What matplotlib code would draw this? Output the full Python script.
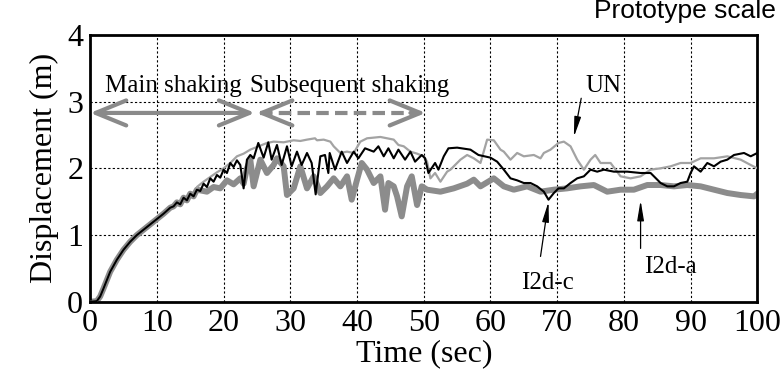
import numpy as np
import matplotlib
matplotlib.use("Agg")
import matplotlib.pyplot as plt

# common build-up (all three tests overlap here)
rise_t = [0, 1, 1.5, 2, 3, 4, 5, 6, 7, 8, 9, 10, 11, 12, 12.5, 13, 13.5, 14, 14.5, 15, 15.5, 16]
rise_y = [0, 0.01, 0.08, 0.2, 0.45, 0.63, 0.78, 0.9, 1.0, 1.08, 1.16, 1.24, 1.32, 1.41, 1.43,
          1.49, 1.46, 1.56, 1.52, 1.62, 1.58, 1.68]

# I2d-c (black)
c_t = [16.5, 17, 17.5, 18, 18.5, 19, 19.5, 20, 20.5, 21, 21.5, 22, 22.5, 23, 23.5, 24, 24.5,
       25.2, 26, 26.7, 27.2, 28, 28.7, 29.5, 30.2, 31, 31.7, 32.5, 33.2, 33.8, 34.5, 35.2, 35.7,
       35.9, 36.7, 37.7, 38.5, 39.5, 40.2, 41.2, 42.5, 43.2, 44, 44.7, 45.5, 46.2, 47.2, 48,
       48.7, 49.7, 50.2, 50.7, 51.7, 52.2, 53, 53.7, 55, 57, 58.2, 60, 61, 62, 63, 64, 65, 66,
       67, 68, 68.7, 69.5, 70.2, 71, 72, 73, 74, 75, 76, 77, 78.5, 80.5, 82.5, 84, 85.5, 86.5,
       87.5, 88.5, 89.5, 90, 90.5, 91.5, 92.5, 93.5, 94.5, 95.5, 96.5, 98, 99, 100]
c_y = [1.66, 1.77, 1.72, 1.85, 1.80, 1.90, 1.86, 1.98, 1.93, 2.08, 2.02, 2.12, 2.05, 1.70, 2.13,
       2.20, 2.15, 2.38, 2.16, 2.39, 2.13, 2.35, 2.05, 2.33, 2.03, 2.25, 2.05, 2.23, 2.08, 1.61,
       2.18, 2.20, 1.93, 2.23, 1.98, 2.25, 2.08, 2.25, 2.15, 2.30, 2.25, 2.33, 2.18, 2.30, 2.15,
       2.28, 2.13, 2.25, 2.10, 2.20, 2.15, 1.93, 2.08, 1.98, 2.18, 2.30, 2.31, 2.28, 2.20, 2.16,
       2.10, 1.98, 1.85, 1.82, 1.78, 1.78, 1.73, 1.65, 1.53, 1.63, 1.70, 1.70, 1.78, 1.85, 1.88,
       1.98, 1.95, 1.98, 1.95, 1.95, 1.93, 1.93, 1.78, 1.73, 1.73, 1.78, 1.80, 1.93, 2.03, 1.95,
       2.08, 2.03, 2.10, 2.13, 2.20, 2.23, 2.18, 2.23]

# UN (light grey)
un_t = [16, 17, 18, 19, 20, 21, 22, 23, 24, 25, 26.5, 27.5, 29, 30.5, 31.5, 32.5, 33.7, 34, 35,
        36, 36.5, 37.5, 38.5, 39.5, 40.5, 41.5, 43.5, 45.5, 46.2, 47, 48, 49, 50, 50.5, 51,
        51.7, 52.5, 53.5, 54, 55.5, 56.5, 57.5, 58.5, 59.5, 60.5, 61.5, 62, 63, 64, 65, 66.5,
        67.5, 68, 69, 70.2, 71, 72, 73, 74, 75, 75.7, 76.5, 78, 79.5, 81, 82.5, 84, 85.5, 87,
        88.5, 90, 91.5, 93.5, 95.5, 97.5, 99, 100]
un_y = [1.72, 1.80, 1.87, 1.94, 2.00, 2.08, 2.18, 2.22, 2.28, 2.32, 2.38, 2.40, 2.39, 2.42, 2.41,
        2.43, 2.45, 2.42, 2.43, 2.40, 2.33, 2.23, 2.25, 2.23, 2.40, 2.45, 2.47, 2.43, 2.35, 2.33,
        2.25, 2.22, 2.18, 2.10, 1.85, 1.93, 1.80, 1.95, 1.98, 2.13, 2.20, 2.15, 2.08, 2.43, 2.42,
        2.28, 2.25, 2.13, 2.23, 2.18, 2.20, 2.15, 2.23, 2.28, 2.38, 2.40, 2.33, 2.13, 1.98, 2.13,
        2.20, 2.08, 2.08, 1.88, 1.85, 1.88, 1.98, 2.00, 2.03, 2.08, 2.08, 2.15, 2.15, 2.18, 2.13,
        2.05, 2.00]

# I2d-a (thick grey)
a_t = [16.5, 17.5, 18.5, 19.5, 20.5, 21.5, 22.5, 23, 23.5, 24, 24.5, 25.5, 26.5, 27.5, 28, 29,
       29.5, 30.5, 31.5, 32.5, 33.5, 34.5, 35.5, 36.5, 37.5, 38.5, 39.2, 40, 40.7, 41.5, 42.5,
       43.5, 44.2, 44.7, 45.5, 46, 46.7, 47.5, 48.2, 49, 49.7, 50.5, 52.5, 54.5, 56.5, 57.5,
       58.5, 60.5, 62, 63.5, 65.5, 67.5, 69.5, 71.5, 73.5, 75.5, 77.5, 79.5, 81.5, 83.5, 85.5,
       87.5, 89.5, 91.5, 93.5, 95.5, 97.5, 99.5, 100]
a_y = [1.67, 1.65, 1.72, 1.70, 1.82, 1.76, 1.85, 1.77, 2.00, 2.13, 1.73, 2.13, 1.93, 2.05, 2.15,
       2.03, 1.60, 1.70, 2.03, 1.70, 1.88, 1.63, 1.73, 1.85, 1.73, 1.88, 1.53, 1.83, 2.08, 1.98,
       1.78, 1.88, 1.38, 1.78, 1.73, 1.58, 1.28, 1.73, 1.88, 1.45, 1.73, 1.68, 1.65, 1.70, 1.77,
       1.83, 1.73, 1.85, 1.73, 1.68, 1.73, 1.65, 1.68, 1.70, 1.73, 1.75, 1.65, 1.68, 1.68, 1.75,
       1.75, 1.73, 1.75, 1.73, 1.68, 1.63, 1.60, 1.58, 1.62]

xticks = [0, 10, 20, 30, 40, 50, 60, 70, 80, 90, 100]
yticks = [0, 1, 2, 3, 4]

serif = ["Liberation Serif", "DejaVu Serif"]
plt.rcParams["font.family"] = serif

fig = plt.figure(figsize=(7.84, 3.83), dpi=100)
ax = fig.add_axes([0.115, 0.212, 0.851, 0.697])

ax.plot(rise_t + a_t, rise_y + a_y, color="#8c8c8c", lw=4.3, zorder=2)
ax.plot(rise_t + un_t, rise_y + un_y, color="#a3a3a3", lw=1.6, zorder=3)
ax.plot(rise_t + c_t, rise_y + c_y, color="black", lw=1.5, zorder=4)

ax.set_xlim(0, 100)
ax.set_ylim(0, 4)
ax.set_xticks(xticks)
ax.set_yticks(yticks)
ax.tick_params(length=0, labelsize=23, pad=5)
ax.grid(True, color="black", lw=0.8, linestyle=(0, (2, 2)))
for s in ax.spines.values():
    s.set_linewidth(2)
ax.set_xlabel("Time (sec)", fontsize=23, labelpad=1)
ax.set_ylabel("Displacement (m)", fontsize=23, labelpad=6)

fig.text(0.99, 0.94, "Prototype scale", ha="right", va="bottom", fontsize=19,
         family="Liberation Sans")

# shaking phase arrows
grey = "#8a8a8a"
hd = "head_length=2.2,head_width=0.9"
ax.annotate("", xy=(0, 2.83), xytext=(24.7, 2.83),
            arrowprops=dict(arrowstyle="<->," + hd, color=grey, lw=3, shrinkA=0, shrinkB=0,
                            mutation_scale=10))
ax.plot([25.5, 49.5], [2.83, 2.83], color=grey, lw=3, linestyle=(0, (3, 1.5)))
ax.annotate("", xy=(24.9, 2.83), xytext=(27, 2.83),
            arrowprops=dict(arrowstyle="->," + hd, color=grey, lw=3,
                            shrinkA=0, shrinkB=0, mutation_scale=10))
ax.annotate("", xy=(50.3, 2.83), xytext=(48, 2.83),
            arrowprops=dict(arrowstyle="->," + hd, color=grey, lw=3,
                            shrinkA=0, shrinkB=0, mutation_scale=10))
ax.text(12.4, 3.24, "Main shaking", ha="center", va="center", fontsize=18)
ax.text(38.9, 3.24, "Subsequent shaking", ha="center", va="center", fontsize=18)

# series labels
lab = dict(arrowstyle="-|>,head_length=1.2,head_width=0.2", color="black", lw=0.9,
           shrinkA=0, shrinkB=0, mutation_scale=10)
ax.text(77, 3.24, "UN", ha="center", va="center", fontsize=18)
ax.annotate("", xy=(72.5, 2.47), xytext=(73.6, 3.05), arrowprops=lab)
ax.text(68.5, 0.28, "I2d-c", ha="center", va="center", fontsize=18)
ax.annotate("", xy=(68.7, 1.5), xytext=(67.5, 0.68), arrowprops=lab)
ax.text(87, 0.52, "I2d-a", ha="center", va="center", fontsize=18)
ax.annotate("", xy=(82.5, 1.52), xytext=(82.5, 0.8), arrowprops=lab)

fig.savefig("out.png", dpi=100)
